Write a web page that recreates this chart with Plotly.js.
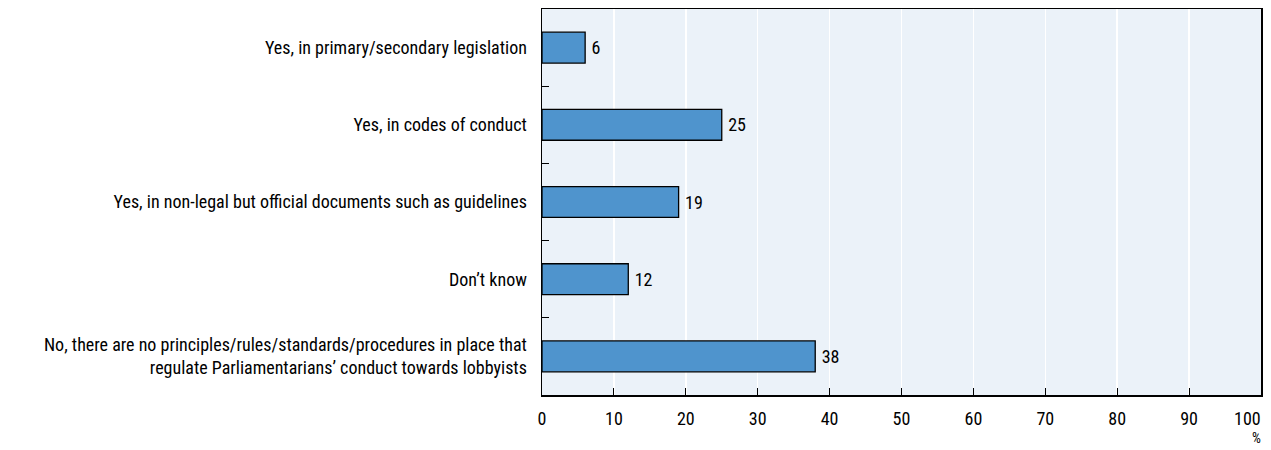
<!DOCTYPE html>
<html>
<head>
<meta charset="utf-8">
<script src="https://cdn.plot.ly/plotly-3.0.1.min.js"></script>
<style>html,body{margin:0;padding:0;background:#fff;}#chart{width:1271px;height:450px;}</style>
</head>
<body>
<div id="chart"></div>
<script>
var categories = [
  "Yes, in primary/secondary legislation",
  "Yes, in codes of conduct",
  "Yes, in non-legal but official documents such as guidelines",
  "Don’t know",
  "No, there are no principles/rules/standards/procedures in place that<br>regulate Parliamentarians’ conduct towards lobbyists"
];
var values = [6, 25, 19, 12, 38];
var xTicks = [0, 10, 20, 30, 40, 50, 60, 70, 80, 90, 100];
var unitLabel = "%";

var FONT = "'Roboto Condensed', 'Liberation Sans Narrow', sans-serif";
var FS = 18;

var lastTick = xTicks[xTicks.length - 1];

var trace = {
  type: "bar",
  orientation: "h",
  x: values,
  y: categories,
  width: 0.4,
  marker: {color: "#4f94cd", line: {color: "#000", width: 1.3}},
  text: values.map(function (v) { return "\u2009" + v; }),
  textposition: "outside",
  cliponaxis: false,
  textfont: {family: FONT, size: FS, color: "#000"},
  hoverinfo: "skip"
};

var layout = {
  width: 1271, height: 450,
  margin: {l: 542, r: 10, t: 9, b: 55},
  paper_bgcolor: "#fff",
  plot_bgcolor: "#ebf2f9",
  showlegend: false,
  font: {family: FONT, size: FS, color: "#000"},
  xaxis: {
    range: [0, lastTick],
    tickvals: xTicks,
    ticktext: xTicks.map(function (t) { return t === lastTick ? "" : String(t); }),
    showgrid: true, gridcolor: "#ffffff", gridwidth: 1.5,
    zeroline: false,
    ticks: "inside", ticklen: 7, tickcolor: "#000", tickwidth: 1,
    showline: true, linecolor: "#000", linewidth: 1.5, mirror: true,
    tickfont: {family: FONT, size: FS, color: "#000"},
    ticklabelstandoff: 7,
    fixedrange: true
  },
  yaxis: {
    autorange: "reversed",
    tickson: "boundaries",
    ticks: "inside", ticklen: 7, tickcolor: "#000", tickwidth: 1,
    showgrid: false, zeroline: false,
    showline: true, linecolor: "#000", linewidth: 1.5, mirror: true,
    tickfont: {family: FONT, size: FS, color: "#000"},
    ticklabelstandoff: 10,
    fixedrange: true
  },
  annotations: [{
    text: String(lastTick), xref: "paper", yref: "paper",
    x: 1, y: 0, xanchor: "right", yanchor: "top",
    yshift: -11, xshift: 2,
    showarrow: false,
    font: {family: FONT, size: FS, color: "#000"}
  }, {
    text: unitLabel, xref: "paper", yref: "paper",
    x: 1, y: 0, xanchor: "right", yanchor: "top",
    yshift: -33, xshift: 2,
    showarrow: false,
    font: {family: FONT, size: 14, color: "#000"}
  }]
};

Plotly.newPlot("chart", [trace], layout, {displayModeBar: false, staticPlot: true});
</script>
</body>
</html>
